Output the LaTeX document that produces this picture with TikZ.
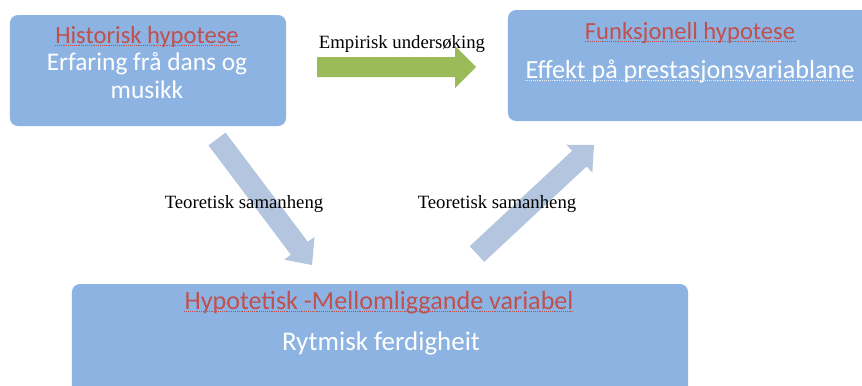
\documentclass[tikz,border=0pt]{standalone}
\usepackage{fontspec}
\setmainfont{Liberation Serif}
\newfontfamily\boxfont{Carlito}
\usetikzlibrary{positioning,calc}

\definecolor{boxblue}{RGB}{141,179,226}
\definecolor{titlered}{RGB}{192,80,77}
\definecolor{arrowgreen}{RGB}{155,187,89}
\definecolor{arrowblue}{RGB}{180,197,223}

\tikzstyle{item} = [rectangle, rounded corners=0.24cm, fill=boxblue, draw=none]
\tikzstyle{title} = [text=titlered, anchor=base, inner sep=0pt, font=\boxfont\fontsize{21}{24}\selectfont]
\tikzstyle{body} = [text=white, anchor=base, inner sep=0pt, font=\boxfont\fontsize{21.7}{24}\selectfont]
\tikzstyle{bigger} = [font=\boxfont\fontsize{22.3}{25}\selectfont]
\tikzstyle{linktext} = [anchor=base, inner sep=0pt, font=\fontsize{16}{18}\selectfont]
\tikzstyle{squiggle} = [densely dotted, line width=0.6pt]

% fat arrow: style, from, to, half shaft, half head, head length
\newcommand{\fatarrow}[6]{%
  \coordinate (h) at ($(#3)!#6!(#2)$);
  \fill[#1] ($(#2)!#4!90:(#3)$) -- ($(h)!#4!-90:(#2)$) -- ($(h)!#5!-90:(#2)$) -- (#3)
    -- ($(h)!#5!90:(#2)$) -- ($(h)!#4!90:(#2)$) -- ($(#2)!#4!-90:(#3)$) -- cycle;}

\begin{document}
\begin{tikzpicture}[x=0.03cm, y=-0.03cm]
\useasboundingbox (0,0) rectangle (862,385);

% boxes
\node (hist) [item, minimum width=8.28cm, minimum height=3.33cm] at (148,70.5) {};
\node (funk) [item, minimum width=11.1cm, minimum height=3.33cm] at (693,65.5) {};
\node (hypo) [item, minimum width=18.48cm, minimum height=3.9cm] at (380,349) {};

% texts in the boxes
\node (histtitle) [title] at (147,43) {Historisk hypotese};
\node (histbody1) [body] at (147,70) {Erfaring frå dans og};
\node (histbody2) [body] at (147,98) {musikk};
\node (funktitle) [title] at (690,39) {Funksjonell hypotese};
\node (funkbody) [body, bigger] at (690,78) {Effekt på prestasjonsvariablane};
\node (hypotitle) [title, bigger] at (379,309) {Hypotetisk -Mellomliggande variabel};
\node (hypobody) [body, font=\boxfont\fontsize{23}{26}\selectfont] at (381,350) {Rytmisk ferdigheit};

\draw [squiggle, titlered] ($(histtitle.base west)+(0,2)$) -- ($(histtitle.base east)+(0,2)$);
\draw [squiggle, titlered] ($(funktitle.base west)+(0,2)$) -- ($(funktitle.base east)+(0,2)$);
\draw [squiggle, titlered] ($(hypotitle.base west)+(0,2)$) -- ($(hypotitle.base east)+(0,2)$);
\draw [squiggle, white!85!gray] ($(funkbody.base west)+(0,2)$) -- ($(funkbody.base east)+(0,2)$);

% arrow ends
\coordinate (emp1) at (317,67);
\coordinate (emp2) at (476,67);
\coordinate (teo1) at (217,139);
\coordinate (teo2) at (312,265);
\coordinate (teo3) at (477,254);
\coordinate (teo4) at (594,145);

\fatarrow{arrowgreen}{emp1}{emp2}{0.3cm}{0.63cm}{0.63cm}
\fatarrow{arrowblue}{teo1}{teo2}{0.32cm}{0.57cm}{0.63cm}
\fatarrow{arrowblue}{teo3}{teo4}{0.32cm}{0.57cm}{0.6cm}

\node (emplabel) [linktext] at (402,48) {Empirisk undersøking};
\node (teolabel1) [linktext] at (244,208) {Teoretisk samanheng};
\node (teolabel2) [linktext] at (497,208) {Teoretisk samanheng};
\end{tikzpicture}
\end{document}
